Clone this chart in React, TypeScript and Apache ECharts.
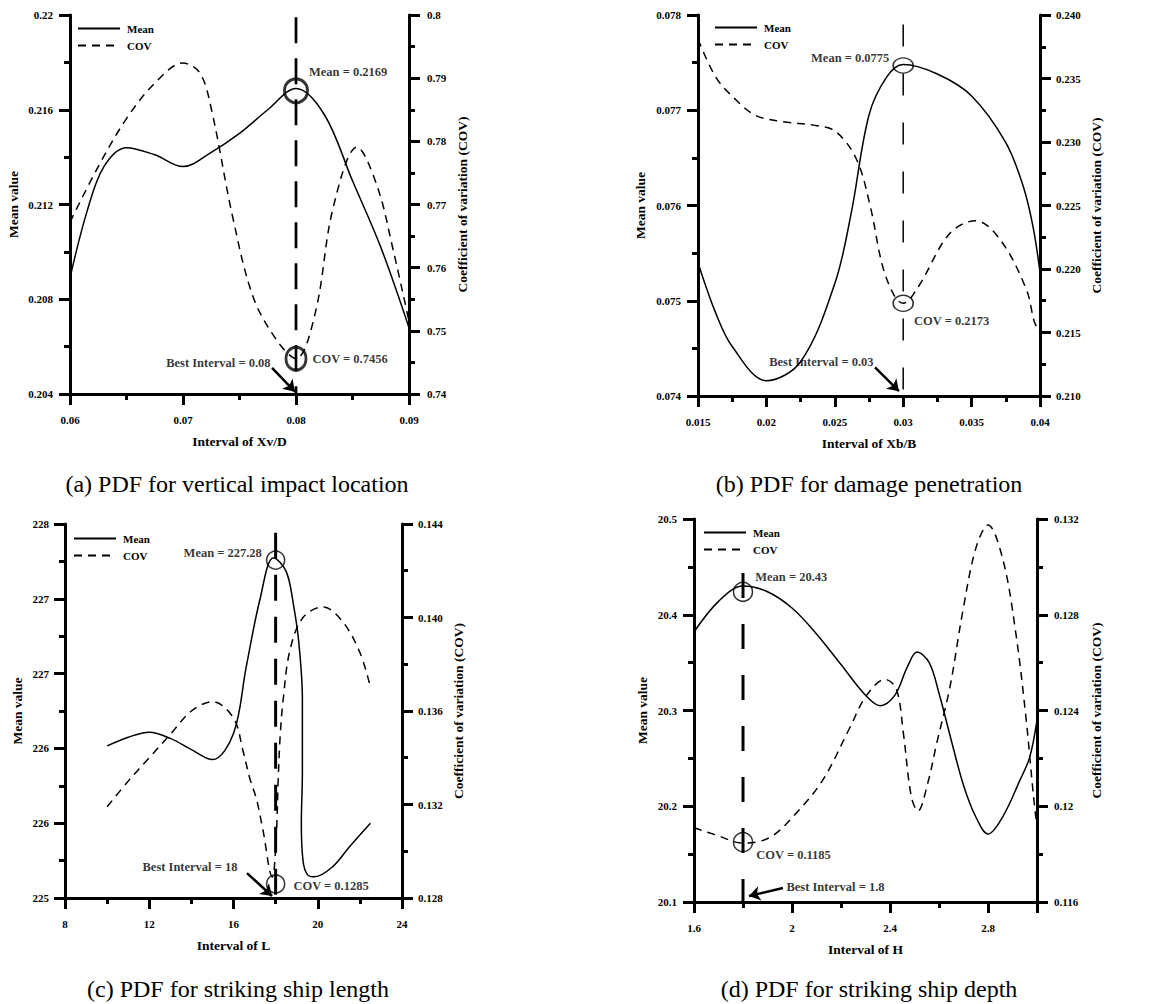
import React, { useEffect, useRef } from 'react';
import * as echarts from 'echarts';

const FONT = '"Liberation Serif", "Times New Roman", serif';

// ---------- Panel (a): vertical impact location ----------
const aMean: number[][] = [[0.06,0.2089],[0.0615,0.2117],[0.063,0.2136],[0.065,0.2144],[0.0675,0.2141],[0.07,0.2136],[0.0725,0.2142],[0.075,0.2150],[0.0775,0.2160],[0.08,0.2169],[0.0825,0.2158],[0.085,0.2130],[0.0875,0.2102],[0.09,0.2068]];
const aCov: number[][] = [[0.06,0.7672],[0.0625,0.7760],[0.065,0.7836],[0.0675,0.7892],[0.07,0.7924],[0.0715,0.7908],[0.0725,0.7852],[0.0744,0.7680],[0.0762,0.7554],[0.0783,0.7485],[0.08,0.7456],[0.0817,0.7528],[0.0833,0.7696],[0.0854,0.7791],[0.0872,0.7728],[0.0886,0.7628],[0.09,0.7515]];
const aRef: number[][] = [[0.08,0.2199],[0.08,0.204]];
const aMeanMark = [0.08,0.2168];
const aCovMark = [0.08,0.7456];
const aArrow: number[][] = [[0.07788,0.2051],[0.0799,0.2041]];

// ---------- Panel (b): damage penetration ----------
const bMean: number[][] = [[0.015,0.0754],[0.0163,0.07487],[0.0175,0.07452],[0.02,0.07416],[0.0225,0.07436],[0.025,0.07518],[0.0262,0.07592],[0.0275,0.07695],[0.0288,0.07735],[0.03,0.07748],[0.0325,0.07738],[0.035,0.07715],[0.0375,0.07666],[0.0388,0.07619],[0.0395,0.07577],[0.04,0.0753]];
const bCov: number[][] = [[0.015,0.2381],[0.0163,0.2351],[0.0176,0.2335],[0.0192,0.2321],[0.0212,0.2316],[0.0236,0.2313],[0.0251,0.2308],[0.0266,0.2286],[0.0276,0.2249],[0.0285,0.2202],[0.0294,0.2178],[0.03,0.2173],[0.0311,0.2186],[0.0334,0.2228],[0.0353,0.2238],[0.0371,0.2223],[0.039,0.2184],[0.0396,0.2158],[0.04,0.2150]];
const bRef: number[][] = [[0.03,0.0779],[0.03,0.074]];
const bMeanMark = [0.03,0.07747];
const bCovMark = [0.03,0.2173];
const bArrow: number[][] = [[0.02794,0.0743],[0.02969,0.07405]];

// ---------- Panel (c): striking ship length ----------
const cMean: number[][] = [[10,226.22],[11,226.29],[12,226.33],[13,226.28],[14,226.19],[15,226.11],[16,226.32],[16.6,226.85],[17.25,227.39],[17.9,227.73],[18.5,227.62],[18.85,227.35],[19.1,227.05],[19.27,226.6],[19.27,226.0],[19.22,225.6],[19.3,225.3],[19.5,225.19],[19.85,225.17],[20.7,225.25],[21.5,225.41],[22.5,225.6]];
const cCov: number[][] = [[10,0.1319],[11,0.1330],[12,0.1340],[13,0.1350],[14,0.1360],[15,0.1364],[16,0.1357],[16.45,0.1343],[16.78,0.1331],[17.1,0.1322],[17.4,0.1309],[17.85,0.1289],[17.92,0.1291],[18.05,0.1310],[18.12,0.1330],[18.22,0.1350],[18.36,0.1365],[18.68,0.1386],[19.3,0.1400],[20.25,0.14045],[21.2,0.1398],[22,0.1385],[22.45,0.1372]];
const cRef: number[][] = [[18,227.93],[18,225]];
const cMeanMark = [18,227.71];
const cCovMark = [18,0.1286];
const cArrow: number[][] = [[16.64,225.2],[17.83,225.016]];

// ---------- Panel (d): striking ship depth ----------
const dMean: number[][] = [[1.6,20.382],[1.7,20.414],[1.8,20.430],[1.9,20.424],[2.0,20.407],[2.1,20.380],[2.2,20.348],[2.3,20.316],[2.36,20.305],[2.42,20.316],[2.47,20.345],[2.51,20.361],[2.56,20.350],[2.6,20.318],[2.65,20.269],[2.7,20.222],[2.75,20.189],[2.8,20.171],[2.86,20.189],[2.93,20.227],[2.97,20.251],[3.0,20.29]];
const dCov: number[][] = [[1.6,0.1191],[1.69,0.1188],[1.8,0.11846],[1.91,0.1187],[2.016,0.1197],[2.126,0.1211],[2.237,0.1233],[2.302,0.1246],[2.38,0.1253],[2.426,0.1249],[2.454,0.1231],[2.487,0.1204],[2.514,0.1198],[2.555,0.1210],[2.59,0.1226],[2.645,0.1250],[2.698,0.1282],[2.751,0.1308],[2.8,0.13175],[2.861,0.1303],[2.914,0.1272],[2.955,0.1237],[2.984,0.1206],[3.0,0.1191]];
const dRef: number[][] = [[1.8,20.4436],[1.8,20.1]];
const dMeanMark = [1.8,20.424];
const dCovMark = [1.8,0.1185];
const dArrow: number[][] = [[1.963,20.1146],[1.8245,20.1063]];

const xNames = ['Interval of Xv/D', 'Interval of Xb/B', 'Interval of L', 'Interval of H'];
const captions = ['(a) PDF for vertical impact location', '(b) PDF for damage penetration', '(c) PDF for striking ship length', '(d) PDF for striking ship depth'];
const meanTexts = ['Mean = 0.2169', 'Mean = 0.0775', 'Mean = 227.28', 'Mean = 20.43'];
const covTexts = ['COV = 0.7456', 'COV = 0.2173', 'COV = 0.1285', 'COV = 0.1185'];
const bestTexts = ['Best Interval = 0.08', 'Best Interval = 0.03', 'Best Interval = 18', 'Best Interval = 1.8'];

const fmt0 = (v: number) => v.toFixed(0);
const fmt1 = (v: number) => v.toFixed(1);
const fmt3 = (v: number) => v.toFixed(3);

const panels: any[] = [
  {
    grid: { left: 70, top: 15, width: 339, height: 379 },
    x: { min: 0.06, max: 0.09, interval: 0.01 },
    yl: { min: 0.204, max: 0.22, interval: 0.004, gap: 50, margin: 17 },
    yr: { min: 0.74, max: 0.8, interval: 0.01, gap: 46, margin: 18 },
    mean: aMean, cov: aCov, ref: aRef, meanMark: aMeanMark, covMark: aCovMark, arrow: aArrow,
    refW: 2.7, refDash: [26, 15], circleW: 3, meanSize: [23, 24], covSize: [20, 23],
    meanLbl: { position: 'right', distance: 0, offset: [0, -19] },
    covLbl: { position: 'right', distance: 5, offset: [0, 0] },
    bestLbl: { position: 'left', distance: 1, offset: [0, -5] },
    legend: [77, 23], caption: [237, 484],
  },
  {
    grid: { left: 698, top: 15, width: 342, height: 381 },
    x: { min: 0.015, max: 0.04, interval: 0.005 },
    yl: { min: 0.074, max: 0.078, interval: 0.001, gap: 51, margin: 17 },
    yr: { min: 0.21, max: 0.24, interval: 0.005, gap: 49, margin: 16, fmt: fmt3 },
    mean: bMean, cov: bCov, ref: bRef, meanMark: bMeanMark, covMark: bCovMark, arrow: bArrow,
    refW: 1.5, refDash: [22, 27], circleW: 1.5, meanSize: [20, 15], covSize: [20, 16],
    meanLbl: { position: 'left', distance: 3, offset: [0, -7] },
    covLbl: { position: 'right', distance: 0, offset: [0, 18] },
    bestLbl: { position: 'left', distance: 1, offset: [0, -5] },
    legend: [714, 22], caption: [869, 484],
  },
  {
    grid: { left: 65, top: 524, width: 337, height: 374 },
    x: { min: 8, max: 24, interval: 4 },
    yl: { min: 225, max: 228, interval: 0.6, gap: 41, margin: 16, fmt: fmt0 },
    yr: { min: 0.128, max: 0.144, interval: 0.004, gap: 49, margin: 16, fmt: fmt3 },
    mean: cMean, cov: cCov, ref: cRef, meanMark: cMeanMark, covMark: cCovMark, arrow: cArrow,
    refW: 3, refDash: [26, 16], circleW: 1.5, meanSize: 18, covSize: 18,
    meanLbl: { position: 'left', distance: 4, offset: [0, -7] },
    covLbl: { position: 'right', distance: 8, offset: [0, 2] },
    bestLbl: { position: 'left', distance: 9, offset: [0, -6] },
    legend: [73, 533], caption: [238, 989],
  },
  {
    grid: { left: 694, top: 519, width: 343, height: 383 },
    x: { min: 1.6, max: 3.0, interval: 0.4, hideMax: true },
    yl: { min: 20.1, max: 20.5, interval: 0.1, gap: 45, margin: 17, fmt: fmt1 },
    yr: { min: 0.116, max: 0.132, interval: 0.004, gap: 52, margin: 17 },
    mean: dMean, cov: dCov, ref: dRef, meanMark: dMeanMark, covMark: dCovMark, arrow: dArrow,
    refW: 3, refDash: [25, 26], circleW: 1.5, meanSize: 19, covSize: 19,
    meanLbl: { position: 'right', distance: 2, offset: [0, -15] },
    covLbl: { position: 'right', distance: 3, offset: [0, 13] },
    bestLbl: { position: 'right', distance: 3, offset: [0, -1] },
    legend: [703, 527], caption: [869, 989],
  },
];

const annFont = { color: '#000', fontFamily: FONT, fontWeight: 'bold', fontSize: 12.5 };

function axisCommon(margin: number, nameGap: number, fmt?: (v: number) => string) {
  const label: any = { margin, color: '#000', fontFamily: FONT, fontWeight: 'bold', fontSize: 11 };
  if (fmt) label.formatter = fmt;
  return {
    type: 'value',
    axisLine: { show: true, onZero: false, lineStyle: { color: '#000', width: 3 } },
    axisTick: { show: true, inside: false, length: 11, lineStyle: { color: '#000', width: 3 } },
    minorTick: { show: true, splitNumber: 2, length: 6, lineStyle: { color: '#000', width: 3 } },
    splitLine: { show: false },
    minorSplitLine: { show: false },
    axisLabel: label,
    nameLocation: 'middle',
    nameGap,
    nameTextStyle: { color: '#000', fontFamily: FONT, fontWeight: 'bold', fontSize: 13.5 },
  };
}

function buildOption() {
  const grid: any[] = [];
  const xAxis: any[] = [];
  const yAxis: any[] = [];
  const series: any[] = [];
  const legend: any[] = [];
  const graphic: any[] = [];

  panels.forEach((p, i) => {
    grid.push({ ...p.grid, containLabel: false });
    const xa: any = { ...axisCommon(20, 40), gridIndex: i, min: p.x.min, max: p.x.max, interval: p.x.interval, name: xNames[i], position: 'bottom' };
    if (p.x.hideMax) xa.axisLabel = { ...xa.axisLabel, showMaxLabel: false };
    xAxis.push(xa);
    yAxis.push({ ...axisCommon(p.yl.margin, p.yl.gap, p.yl.fmt), gridIndex: i, position: 'left', min: p.yl.min, max: p.yl.max, interval: p.yl.interval, name: 'Mean value', nameRotate: 90 });
    yAxis.push({ ...axisCommon(p.yr.margin, p.yr.gap, p.yr.fmt), gridIndex: i, position: 'right', min: p.yr.min, max: p.yr.max, interval: p.yr.interval, name: 'Coefficient of variation (COV)', nameRotate: 90 });

    const L = 2 * i, R = 2 * i + 1;
    series.push({
      type: 'line', name: 'Mean', xAxisIndex: i, yAxisIndex: L, data: p.mean, smooth: 0.35,
      symbol: 'none', showSymbol: false, lineStyle: { color: '#000', width: 1.5 }, itemStyle: { color: '#000' }, z: 3, silent: true,
    });
    series.push({
      type: 'line', name: 'COV', xAxisIndex: i, yAxisIndex: R, data: p.cov, smooth: 0.35,
      symbol: 'none', showSymbol: false, lineStyle: { color: '#000', width: 1.5, type: [8, 6] }, itemStyle: { color: '#000' }, z: 3, silent: true,
    });
    series.push({
      type: 'line', name: 'ref' + i, xAxisIndex: i, yAxisIndex: L, data: p.ref,
      symbol: 'none', showSymbol: false, lineStyle: { color: '#000', width: p.refW, type: p.refDash }, z: 2, silent: true,
    });
    series.push({
      type: 'scatter', name: 'meanMark' + i, xAxisIndex: i, yAxisIndex: L, data: [p.meanMark],
      symbol: 'circle', symbolSize: p.meanSize, silent: true, z: 5,
      itemStyle: { color: 'rgba(0,0,0,0)', borderColor: '#000', borderWidth: p.circleW },
      label: { show: true, formatter: meanTexts[i], ...p.meanLbl, ...annFont },
      emphasis: { disabled: true },
    });
    series.push({
      type: 'scatter', name: 'covMark' + i, xAxisIndex: i, yAxisIndex: R, data: [p.covMark],
      symbol: 'circle', symbolSize: p.covSize, silent: true, z: 5,
      itemStyle: { color: 'rgba(0,0,0,0)', borderColor: '#000', borderWidth: p.circleW },
      label: { show: true, formatter: covTexts[i], ...p.covLbl, ...annFont },
      emphasis: { disabled: true },
    });
    series.push({
      type: 'scatter', name: 'best' + i, xAxisIndex: i, yAxisIndex: L, data: [p.arrow[0]],
      symbol: 'circle', symbolSize: 1, silent: true, z: 6,
      itemStyle: { color: 'rgba(0,0,0,0)' },
      label: { show: true, formatter: bestTexts[i], ...p.bestLbl, ...annFont },
      emphasis: { disabled: true },
      markLine: {
        silent: true, symbol: ['none', 'arrow'], symbolSize: 11, animation: false,
        lineStyle: { color: '#000', width: 2.5, type: 'solid' },
        itemStyle: { color: '#000' },
        label: { show: false },
        emphasis: { disabled: true },
        data: [[{ coord: p.arrow[0] }, { coord: p.arrow[1] }]],
      },
    });

    legend.push({
      left: p.legend[0], top: p.legend[1], orient: 'vertical', itemWidth: 42, itemHeight: 12, itemGap: 6,
      data: ['Mean', 'COV'], selectedMode: false, padding: 0,
      itemStyle: { color: 'rgba(0,0,0,0)', borderWidth: 0, opacity: 0 },
      textStyle: { color: '#000', fontFamily: FONT, fontWeight: 'bold', fontSize: 11, padding: [0, 0, 0, 2] },
    });

    graphic.push({
      type: 'text', x: p.caption[0], y: p.caption[1], silent: true,
      style: { text: captions[i], align: 'center', verticalAlign: 'middle', fill: '#000', font: `24px ${FONT}` },
    });
  });

  return {
    animation: false,
    backgroundColor: '#fff',
    color: ['#000'],
    textStyle: { fontFamily: FONT },
    grid, xAxis, yAxis, series, legend, graphic,
  };
}

export default function App() {
  const ref = useRef<HTMLDivElement>(null);
  useEffect(() => {
    if (!ref.current) return;
    const chart = echarts.init(ref.current, null, { renderer: 'svg' });
    chart.setOption(buildOption() as any);
    return () => chart.dispose();
  }, []);
  return <div ref={ref} style={{ position: 'absolute', left: 0, top: 0, width: 1167, height: 1004, background: '#fff' }} />;
}
